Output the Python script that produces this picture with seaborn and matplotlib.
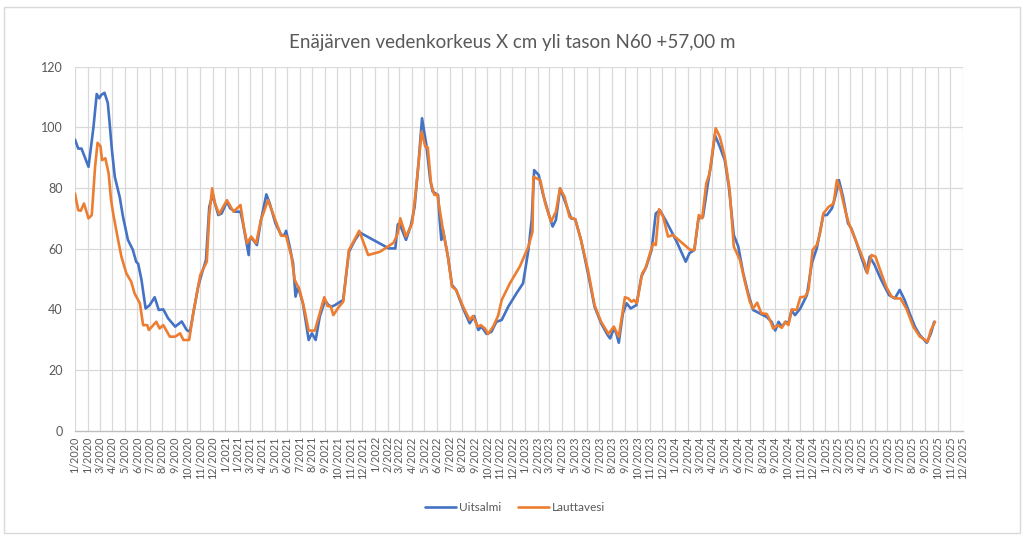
import matplotlib
matplotlib.use("Agg")
import matplotlib.pyplot as plt
import seaborn as sns
import pandas as pd
import matplotlib.patches as mpatches

TITLE = "Enäjärven vedenkorkeus X cm yli tason N60 +57,00 m"
SERIES = ["Uitsalmi", "Lauttavesi"]
COLORS = ["#4472C4", "#ED7D31"]

uitsalmi_dates = [
    "2020-01-01", "2020-01-09", "2020-01-17", "2020-02-03", "2020-02-15", "2020-02-23", "2020-02-29",
    "2020-03-05", "2020-03-13", "2020-03-21", "2020-03-25", "2020-03-31", "2020-04-07", "2020-04-19",
    "2020-04-27", "2020-05-09", "2020-05-21", "2020-05-29", "2020-06-03", "2020-06-11", "2020-06-21",
    "2020-07-01", "2020-07-13", "2020-07-23", "2020-08-03", "2020-08-15", "2020-09-01", "2020-09-17",
    "2020-09-29", "2020-10-07", "2020-10-15", "2020-10-27", "2020-11-05", "2020-11-15", "2020-11-23",
    "2020-12-01", "2020-12-15", "2020-12-23",
    "2021-01-05", "2021-01-13", "2021-01-25", "2021-02-07", "2021-02-13", "2021-02-21", "2021-02-27",
    "2021-03-01", "2021-03-07", "2021-03-19", "2021-03-29", "2021-04-11", "2021-04-19", "2021-05-03",
    "2021-05-17", "2021-05-25", "2021-05-29", "2021-06-05", "2021-06-15", "2021-06-21", "2021-06-27",
    "2021-07-09", "2021-07-23", "2021-07-31", "2021-08-09", "2021-08-19", "2021-09-01", "2021-09-09",
    "2021-09-17", "2021-09-25", "2021-10-15", "2021-10-29", "2021-11-13", "2021-11-25",
    "2022-02-03", "2022-02-19", "2022-02-25", "2022-03-01", "2022-03-17", "2022-03-29", "2022-04-07",
    "2022-04-17", "2022-04-25", "2022-05-05", "2022-05-15", "2022-05-21", "2022-06-03", "2022-06-07",
    "2022-06-11", "2022-06-15", "2022-06-27", "2022-07-07", "2022-07-17", "2022-08-03", "2022-08-19",
    "2022-08-30", "2022-09-09", "2022-09-17", "2022-09-29", "2022-10-11", "2022-10-23", "2022-11-05",
    "2022-11-21", "2022-12-11", "2022-12-27",
    "2023-01-09", "2023-01-17", "2023-01-23", "2023-02-03", "2023-02-13", "2023-02-27", "2023-03-09",
    "2023-03-17", "2023-03-27", "2023-04-07", "2023-04-23", "2023-05-03", "2023-05-17", "2023-06-03",
    "2023-06-19", "2023-07-05", "2023-07-21", "2023-07-27", "2023-08-05", "2023-08-11", "2023-08-17",
    "2023-08-27", "2023-09-05", "2023-09-15", "2023-09-29", "2023-10-11", "2023-10-23", "2023-11-05",
    "2023-11-15", "2023-11-25", "2023-12-11",
    "2024-01-05", "2024-01-27", "2024-02-05", "2024-02-17", "2024-02-27", "2024-03-09", "2024-03-21",
    "2024-03-29", "2024-04-07", "2024-04-19", "2024-05-01", "2024-05-11", "2024-05-23", "2024-06-03",
    "2024-06-15", "2024-06-27", "2024-07-09", "2024-07-25", "2024-08-11", "2024-08-23", "2024-09-01",
    "2024-09-09", "2024-09-17", "2024-09-27", "2024-10-03", "2024-10-11", "2024-10-19", "2024-11-01",
    "2024-11-17", "2024-11-29", "2024-12-11", "2024-12-19", "2024-12-27",
    "2025-01-05", "2025-01-17", "2025-01-25", "2025-02-03", "2025-02-13", "2025-02-25", "2025-03-05",
    "2025-03-17", "2025-03-29", "2025-04-11", "2025-04-19", "2025-05-01", "2025-05-17", "2025-06-05",
    "2025-06-19", "2025-07-01", "2025-07-13", "2025-07-25", "2025-08-07", "2025-08-19", "2025-09-05",
    "2025-09-15", "2025-09-23",
]
uitsalmi_values = [
    96, 93, 93, 87, 100, 111, 109.6,
    110.7, 111.4, 108, 102, 92.5, 83.7, 77,
    70.5, 62.9, 59.6, 55.7, 55, 49.7, 40.3,
    41.4, 44, 39.8, 40, 37, 34.3, 36,
    33.2, 32.6, 38.7, 47.5, 51.9, 56.3, 73.8,
    77.7, 71.1, 71.6,
    75.5, 73.3, 72.2, 72.2, 68.4, 62.3, 57.9,
    62.9, 63.4, 61.2, 69.5, 77.9, 75, 68.4,
    64.5, 64.5, 65.9, 61.8, 55.2, 44.2, 47.5,
    42, 29.9, 32.1, 29.9, 37.6, 43, 41.4,
    40.9, 41.4, 43.1, 59, 62.9, 65.3,
    60.1, 60.1, 68, 68.4, 62.9, 67.8, 73.8,
    89.2, 103, 94.7, 82.6, 78.8, 77.7, 69.5,
    62.9, 66.2, 57.4, 48, 46.4, 40.3, 35.4,
    37.8, 33.2, 34.3, 31.9, 32.6, 35.9, 36.5,
    40.9, 45.3, 48.6,
    59.6, 69.5, 85.9, 84.3, 78.2, 71.6, 67.3,
    69.5, 79.9, 76, 70, 69.7, 62.9, 51.9,
    40.9, 35.4, 31.5, 30.4, 33.7, 32.1, 29,
    38.7, 42, 40.3, 41.4, 50.8, 54.1, 59.6,
    71.6, 72.7, 68.9,
    62.3, 55.7, 58.5, 59.6, 70, 70.5, 81.5,
    88.1, 97.5, 93.6, 89.2, 80.4, 64.5, 60.7,
    51.9, 45.3, 39.8, 38.7, 37.5, 35.9, 33,
    35.9, 34.3, 35.9, 35.4, 39.6, 38.1, 40.3,
    44.7, 55.2, 60.1, 65.6, 71.1,
    71.1, 73.3, 77.1, 82.6, 77.1, 68.4, 66.7,
    62.3, 57.4, 52.4, 57.4, 54.6, 49.7, 44.7,
    43.6, 46.4, 43.1, 38.7, 34.3, 31.5, 29,
    32.1, 35.9,
]

lauttavesi_dates = [
    "2020-01-01", "2020-01-09", "2020-01-15", "2020-01-23", "2020-02-03", "2020-02-11", "2020-02-19",
    "2020-02-25", "2020-03-03", "2020-03-07", "2020-03-15", "2020-03-23", "2020-03-29", "2020-04-03",
    "2020-04-15", "2020-04-23", "2020-05-05", "2020-05-17", "2020-05-25", "2020-06-07", "2020-06-15",
    "2020-06-25", "2020-06-29", "2020-07-17", "2020-07-25", "2020-08-03", "2020-08-19", "2020-09-01",
    "2020-09-13", "2020-09-21", "2020-10-05", "2020-10-15", "2020-11-01", "2020-11-17", "2020-11-23",
    "2020-11-30", "2020-12-07", "2020-12-17",
    "2021-01-05", "2021-01-21", "2021-02-07", "2021-02-15", "2021-02-23", "2021-03-05", "2021-03-17",
    "2021-03-29", "2021-04-15", "2021-04-27", "2021-05-09", "2021-05-17", "2021-05-29", "2021-06-11",
    "2021-06-19", "2021-07-01", "2021-07-13", "2021-07-23", "2021-08-07", "2021-08-19", "2021-08-30",
    "2021-09-07", "2021-09-15", "2021-09-21", "2021-10-05", "2021-10-15", "2021-10-29", "2021-11-09",
    "2021-11-23", "2021-12-15",
    "2022-01-13", "2022-02-15", "2022-02-25", "2022-03-03", "2022-03-17", "2022-04-01", "2022-04-11",
    "2022-04-24", "2022-05-03", "2022-05-09", "2022-05-17", "2022-05-25", "2022-06-01", "2022-06-15",
    "2022-06-27", "2022-07-07", "2022-07-17", "2022-08-03", "2022-08-19", "2022-08-27", "2022-09-07",
    "2022-09-15", "2022-09-25", "2022-10-03", "2022-10-15", "2022-10-27", "2022-11-05", "2022-11-25",
    "2022-12-19",
    "2023-01-09", "2023-01-19", "2023-01-21", "2023-02-07", "2023-02-19", "2023-03-05", "2023-03-17",
    "2023-03-27", "2023-04-07", "2023-04-19", "2023-05-03", "2023-05-17", "2023-06-03", "2023-06-19",
    "2023-07-05", "2023-07-23", "2023-08-05", "2023-08-17", "2023-09-01", "2023-09-09", "2023-09-17",
    "2023-09-23", "2023-09-30", "2023-10-13", "2023-10-21", "2023-11-01", "2023-11-09", "2023-11-15",
    "2023-11-23", "2023-12-03", "2023-12-15", "2023-12-27",
    "2024-02-07", "2024-02-17", "2024-02-28", "2024-03-07", "2024-03-17", "2024-03-25", "2024-04-09",
    "2024-04-19", "2024-05-01", "2024-05-13", "2024-05-23", "2024-06-07", "2024-06-19", "2024-07-01",
    "2024-07-09", "2024-07-19", "2024-07-29", "2024-08-11", "2024-08-19", "2024-08-27", "2024-09-07",
    "2024-09-17", "2024-09-25", "2024-10-03", "2024-10-11", "2024-10-23", "2024-11-01", "2024-11-13",
    "2024-11-21", "2024-12-01", "2024-12-11", "2024-12-19", "2024-12-27",
    "2025-01-09", "2025-01-21", "2025-01-29", "2025-02-07", "2025-02-19", "2025-02-27", "2025-03-09",
    "2025-03-25", "2025-04-07", "2025-04-13", "2025-04-23", "2025-05-03", "2025-05-13", "2025-05-29",
    "2025-06-11", "2025-06-23", "2025-07-03", "2025-07-17", "2025-08-03", "2025-08-19", "2025-09-01",
    "2025-09-07", "2025-09-15", "2025-09-25",
]
lauttavesi_values = [
    78.2, 72.7, 72.5, 74.9, 70, 71.1, 87,
    94.9, 93.8, 89.2, 89.8, 84.8, 76, 71.6,
    62.9, 57.4, 51.9, 49.1, 45.3, 42, 34.8,
    34.8, 33.2, 35.9, 33.7, 34.8, 31, 31,
    32.1, 29.9, 29.9, 38.7, 51.3, 55.7, 71.1,
    79.9, 74.9, 71.4,
    76, 72.2, 74.4, 67.3, 61.8, 64, 61.8,
    69.5, 76, 71.6, 67.3, 64.3, 64.2, 57.4,
    49.7, 46.4, 39.8, 33, 33, 38.7, 44,
    41.1, 40.9, 38.1, 40.9, 42.5, 59.6, 62.3,
    65.9, 57.9,
    59, 62, 65.1, 70, 64, 68.4, 80.4,
    98.6, 93.6, 93.4, 81.5, 77.7, 78, 66.2,
    57.4, 47.5, 46.4, 40.9, 36.5, 37.8, 34.3,
    34.8, 33.7, 31.9, 34.3, 37.8, 43.1, 48.6,
    54.1,
    60.7, 65.6, 83.7, 82.6, 74.9, 68.9, 72.2,
    79.9, 77.1, 70.5, 69.7, 62.9, 53, 41.4,
    35.9, 31.9, 34.3, 31, 44, 43.6, 42.5,
    43.1, 42, 51.9, 53.5, 58.5, 61.8, 61.2,
    73, 70.5, 64, 64.5,
    59.6, 59.6, 71.1, 70, 81.5, 84.8, 99.7,
    96.9, 90.3, 79.3, 60.7, 56.3, 49.1, 42.5,
    40.3, 42.2, 38.7, 38.5, 36.5, 33.7, 34.8,
    33.9, 35.9, 34.8, 40, 39.8, 44, 44.2,
    46.4, 59.6, 61.2, 65.1, 71.6,
    73.8, 74.9, 82.6, 79.3, 72.2, 68.4, 65.1,
    59.6, 55.2, 51.9, 57.9, 57.4, 53.5, 47.5,
    44.2, 43.6, 43.6, 40.3, 34.3, 31, 29.9,
    29.3, 33.2, 35.9,
]

TICK_LABELS = (
    ["1/2020", "1/2020", "3/2020", "4/2020", "5/2020", "6/2020", "7/2020", "8/2020",
     "9/2020", "10/2020", "11/2020", "12/2020"]
    + ["1/2021", "1/2021", "3/2021", "4/2021", "5/2021", "6/2021", "7/2021", "8/2021",
       "9/2021", "10/2021", "11/2021", "12/2021"]
    + [f"{m}/2022" for m in range(1, 13)]
    + [f"{m}/2023" for m in range(1, 13)]
    + [f"{m}/2024" for m in range(1, 13)]
    + [f"{m}/2025" for m in range(1, 13)]
)
Y_TICKS = [0, 20, 40, 60, 80, 100, 120]

df = pd.concat([
    pd.DataFrame({"date": pd.to_datetime(uitsalmi_dates), "value": uitsalmi_values, "series": SERIES[0]}),
    pd.DataFrame({"date": pd.to_datetime(lauttavesi_dates), "value": lauttavesi_values, "series": SERIES[1]}),
], ignore_index=True)

sns.set_theme(style="white")
plt.rcParams["font.family"] = ["Lato", "DejaVu Sans"]

fig = plt.figure(figsize=(10.24, 5.35), dpi=100)
fig.patches.append(mpatches.Rectangle((0.004, 0.004), 0.992, 0.982, transform=fig.transFigure,
                                      fill=False, edgecolor="#D9D9D9", linewidth=1.0))
ax = fig.add_axes([0.0732, 0.195, 0.8668, 0.6803])

tick_dates = pd.date_range("2020-01-01", "2025-12-01", freq="MS")

for d in tick_dates:
    ax.axvline(d, color="#D9D9D9", lw=0.9, zorder=0)
for y in Y_TICKS[1:]:
    ax.axhline(y, color="#D9D9D9", lw=0.9, zorder=0)

sns.lineplot(data=df, x="date", y="value", hue="series", palette=COLORS, hue_order=SERIES,
             linewidth=1.9, ax=ax, legend=True, sort=False)
for ln in ax.get_lines():
    ln.set_solid_joinstyle("round")
    ln.set_solid_capstyle("round")

ax.set_xlim(tick_dates[0], tick_dates[-1])
ax.set_ylim(0, 120)
ax.set_yticks(Y_TICKS)
ax.set_yticklabels([str(v) for v in Y_TICKS])
ax.set_xticks(tick_dates)
ax.set_xticklabels(TICK_LABELS, rotation=90)
ax.tick_params(axis="y", length=0, pad=9, labelsize=9, labelcolor="#595959")
ax.tick_params(axis="x", length=0, pad=4, labelsize=7.8, labelcolor="#595959")
ax.set_xlabel("")
ax.set_ylabel("")
for s in ["top", "right", "left"]:
    ax.spines[s].set_visible(False)
ax.spines["bottom"].set_color("#BFBFBF")
ax.spines["bottom"].set_linewidth(1.0)

handles, labels = ax.get_legend_handles_labels()
ax.legend(handles, labels, loc="center", bbox_to_anchor=(0.503, 0.052), bbox_transform=fig.transFigure,
          ncol=2, frameon=False, fontsize=8.5, handlelength=2.6, columnspacing=1.4,
          labelcolor="#595959", handletextpad=0.3)

fig.text(0.5, 0.921, TITLE, ha="center", va="center", fontsize=13.5, color="#595959")

fig.savefig("out.png", dpi=100, facecolor="white")
